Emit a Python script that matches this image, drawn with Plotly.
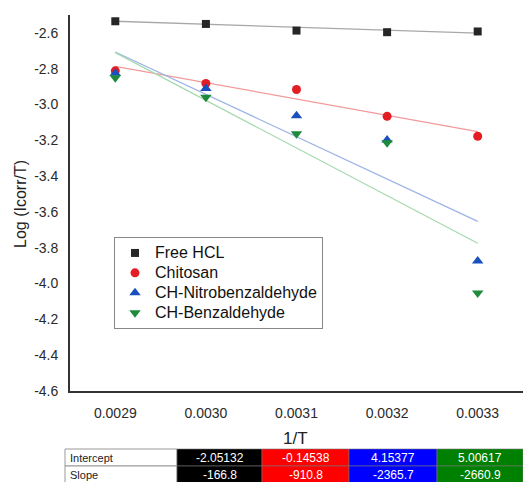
import plotly.graph_objects as go

inv_T = [0.0029, 0.0030, 0.0031, 0.0032, 0.0033]
free_hcl = [-2.535, -2.550, -2.587, -2.596, -2.592]
chitosan = [-2.812, -2.882, -2.916, -3.066, -3.177]
nitro = [-2.826, -2.910, -3.063, -3.198, -3.874]
benz = [-2.850, -2.960, -3.163, -3.213, -4.052]

series_names = ["Free HCL", "Chitosan", "CH-Nitrobenzaldehyde", "CH-Benzaldehyde"]
intercepts = [-2.05132, -0.14538, 4.15377, 5.00617]
slopes = [-166.8, -910.8, -2365.7, -2660.9]
intercept_text = ["-2.05132", "-0.14538", "4.15377", "5.00617"]
slope_text = ["-166.8", "-910.8", "-2365.7", "-2660.9"]

y_tick_vals = [-2.6, -2.8, -3.0, -3.2, -3.4, -3.6, -3.8, -4.0, -4.2, -4.4, -4.6]
y_tick_text = ["-2.6", "-2.8", "-3.0", "-3.2", "-3.4", "-3.6", "-3.8", "-4.0", "-4.2", "-4.4", "-4.6"]
x_tick_vals = [0.0029, 0.0030, 0.0031, 0.0032, 0.0033]
x_tick_text = ["0.0029", "0.0030", "0.0031", "0.0032", "0.0033"]
x_title = "1/T"
y_title = "Log (Icorr/T)"

series_values = [free_hcl, chitosan, nitro, benz]
marker_colors = ["#262626", "#e41c23", "#1a4fc0", "#1d8a3c"]
line_colors = ["#a8a8a8", "#f29a9a", "#9cb4e6", "#a6d9b0"]
symbols = ["square", "circle", "triangle-up", "triangle-down"]
sizes = [8, 9, 10, 10]
cell_colors = ["#000000", "#ff0000", "#0000ff", "#008000"]

W, H = 523, 482
ML, MR, MT, MB = 70, 0, 15, 91
PW, PH = W - ML - MR, H - MT - MB


def pxx(x):
    return (x - ML) / PW


def pxy(y):
    return (H - MB - y) / PH


fig = go.Figure()

x_end = [inv_T[0], inv_T[-1]]
for i in range(4):
    fig.add_trace(go.Scatter(
        x=x_end,
        y=[intercepts[i] + slopes[i] * xv for xv in x_end],
        mode="lines",
        line=dict(color=line_colors[i], width=1.3),
        showlegend=False,
        hoverinfo="skip",
    ))

for i in range(4):
    fig.add_trace(go.Scatter(
        x=inv_T,
        y=series_values[i],
        mode="markers",
        name="<span style='font-size:16px'>" + series_names[i] + "</span>",
        marker=dict(symbol=symbols[i], size=sizes[i], color=marker_colors[i],
                    line=dict(width=0)),
    ))

font_family = "Liberation Sans, Arial, sans-serif"

fig.update_layout(
    width=W, height=H,
    margin=dict(l=ML, r=MR, t=MT, b=MB),
    paper_bgcolor="white",
    plot_bgcolor="white",
    font=dict(family=font_family, color="#222"),
    legend=dict(
        x=pxx(114), y=pxy(237), xanchor="left", yanchor="top",
        bordercolor="#888", borderwidth=1, bgcolor="white",
        font=dict(size=13, color="#111"),
        tracegroupgap=0,
    ),
    xaxis=dict(
        range=[0.00285, 0.00335],
        tickvals=x_tick_vals, ticktext=x_tick_text,
        showgrid=False, zeroline=False,
        showline=True, linecolor="#333", linewidth=1.8,
        ticks="", tickfont=dict(size=14, color="#2a2a2a"),
        ticklabelstandoff=8,
    ),
    yaxis=dict(
        range=[-4.6, -2.5],
        tickvals=y_tick_vals, ticktext=y_tick_text,
        showgrid=False, zeroline=False,
        showline=True, linecolor="#333", linewidth=1.8,
        ticks="", tickfont=dict(size=14, color="#2a2a2a"),
        ticklabelstandoff=7,
    ),
)

fig.add_annotation(xref="paper", yref="paper", x=pxx(295), y=pxy(438),
                   text=x_title, showarrow=False, xanchor="center", yanchor="middle",
                   font=dict(size=17, color="#222"))
fig.add_annotation(xref="paper", yref="paper", x=pxx(20), y=pxy(204),
                   text=y_title, showarrow=False, xanchor="center", yanchor="middle",
                   textangle=-90, font=dict(size=16, color="#222"))

# Table under the chart
col_edges = [65, 177, 262, 349, 437, 523]
row_edges = [449, 466, 483]
row_labels = ["Intercept", "Slope"]
row_texts = [intercept_text, slope_text]

for r in range(2):
    y0, y1 = row_edges[r], row_edges[r + 1]
    fig.add_shape(type="rect", xref="paper", yref="paper",
                  x0=pxx(col_edges[0]), x1=pxx(col_edges[1]), y0=pxy(y1), y1=pxy(y0),
                  fillcolor="white", line=dict(color="#999", width=1))
    fig.add_annotation(xref="paper", yref="paper", x=pxx(col_edges[0] + 3), y=pxy((y0 + y1) / 2),
                       text=row_labels[r], showarrow=False, xanchor="left", yanchor="middle",
                       font=dict(size=11, color="#222"))
    for c in range(4):
        fig.add_shape(type="rect", xref="paper", yref="paper",
                      x0=pxx(col_edges[c + 1]), x1=pxx(col_edges[c + 2]), y0=pxy(y1), y1=pxy(y0),
                      fillcolor=cell_colors[c], line=dict(color="#777", width=0.6))
        fig.add_annotation(xref="paper", yref="paper",
                           x=pxx((col_edges[c + 1] + col_edges[c + 2]) / 2), y=pxy((y0 + y1) / 2),
                           text=row_texts[r][c], showarrow=False, xanchor="center", yanchor="middle",
                           font=dict(size=12, color="white"))

fig.write_html("out.html", config={"displayModeBar": False},
               post_script="document.body.style.margin='0';document.body.style.padding='0';")
